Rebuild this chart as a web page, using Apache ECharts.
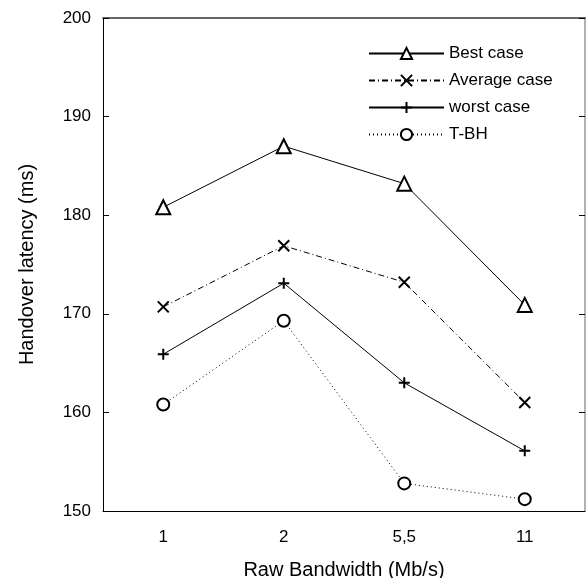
<!DOCTYPE html>
<html>
<head>
<meta charset="utf-8">
<script src="https://cdn.jsdelivr.net/npm/echarts@6/dist/echarts.min.js"></script>
<style>
  html, body { margin: 0; padding: 0; background: #fff; }
  #main { width: 588px; height: 578px; }
</style>
</head>
<body>
<div id="main"></div>
<script>
// data
const categories = ["1", "2", "5,5", "11"];
const bestCase = [180.8, 187.0, 183.2, 170.9];
const averageCase = [170.7, 176.9, 173.2, 161.0];
const worstCase = [165.9, 173.1, 163.0, 156.1];
const tbh = [160.8, 169.3, 152.8, 151.2];

const crossPath = "path://M0,0 L10,10 M10,0 L0,10";
const plusPath = "path://M5,0 L5,10 M0,5 L10,5";

const chart = echarts.init(document.getElementById("main"));

const font = "Liberation Sans, Arial, sans-serif";

function mkSeries(name, data, symbol, size, lineType, fill) {
  return {
    name: name,
    type: "line",
    data: data,
    xAxisIndex: 0,
    yAxisIndex: 0,
    symbol: symbol,
    symbolSize: size,
    showAllSymbol: true,
    lineStyle: { color: "#000", width: 1, type: lineType },
    itemStyle: { color: fill, borderColor: "#000", borderWidth: 2 },
    emphasis: { disabled: true },
    animation: false,
  };
}

const option = {
  animation: false,
  textStyle: { fontFamily: font },
  grid: { left: 103, right: 3, top: 18, bottom: 67, outerBoundsMode: "none", containLabel: false },
  legend: {
    orient: "vertical",
    left: 363,
    top: 40,
    itemWidth: 75,
    itemHeight: 14,
    itemGap: 10,
    textStyle: { fontSize: 17, color: "#000", fontFamily: font },
    data: ["Best case", "Average case", "worst case", "T-BH"],
  },
  xAxis: [
    {
      type: "category",
      data: categories,
      boundaryGap: true,
      name: "Raw Bandwidth (Mb/s)",
      nameLocation: "middle",
      nameGap: 49,
      nameTextStyle: { fontSize: 20, color: "#000" },
      axisLine: { lineStyle: { color: "#000", width: 1 } },
      axisTick: { inside: true, length: 6, lineStyle: { color: "#000" } },
      axisLabel: { fontSize: 17, color: "#000", margin: 18 },
    },
    {
      type: "category",
      data: categories,
      position: "top",
      boundaryGap: true,
      axisLine: { show: true, lineStyle: { color: "#333", width: 1.5 } },
      axisTick: { inside: true, length: 6, lineStyle: { color: "#000" } },
      axisLabel: { show: false },
    },
  ],
  yAxis: [
    {
      type: "value",
      min: 150,
      max: 200,
      interval: 10,
      name: "Handover latency (ms)",
      nameLocation: "middle",
      nameGap: 66,
      nameTextStyle: { fontSize: 20, color: "#000" },
      axisLine: { show: true, lineStyle: { color: "#000", width: 1 } },
      axisTick: { show: true, inside: true, length: 6, lineStyle: { color: "#000" } },
      axisLabel: { fontSize: 17, color: "#000", margin: 12 },
      splitLine: { show: false },
    },
    {
      type: "value",
      min: 150,
      max: 200,
      interval: 10,
      position: "right",
      axisLine: { show: true, lineStyle: { color: "#999", width: 1.5 } },
      axisTick: { show: true, inside: true, length: 6, lineStyle: { color: "#000" } },
      axisLabel: { show: false },
      splitLine: { show: false },
    },
  ],
  series: [
    mkSeries("Best case", bestCase, "triangle", 14, "solid", "#fff"),
    mkSeries("Average case", averageCase, crossPath, 11, [6, 3, 1, 3], "#000"),
    mkSeries("worst case", worstCase, plusPath, 11, "solid", "#000"),
    mkSeries("T-BH", tbh, "circle", 12, [1, 3], "#fff"),
  ],
};

chart.setOption(option);
</script>
</body>
</html>
